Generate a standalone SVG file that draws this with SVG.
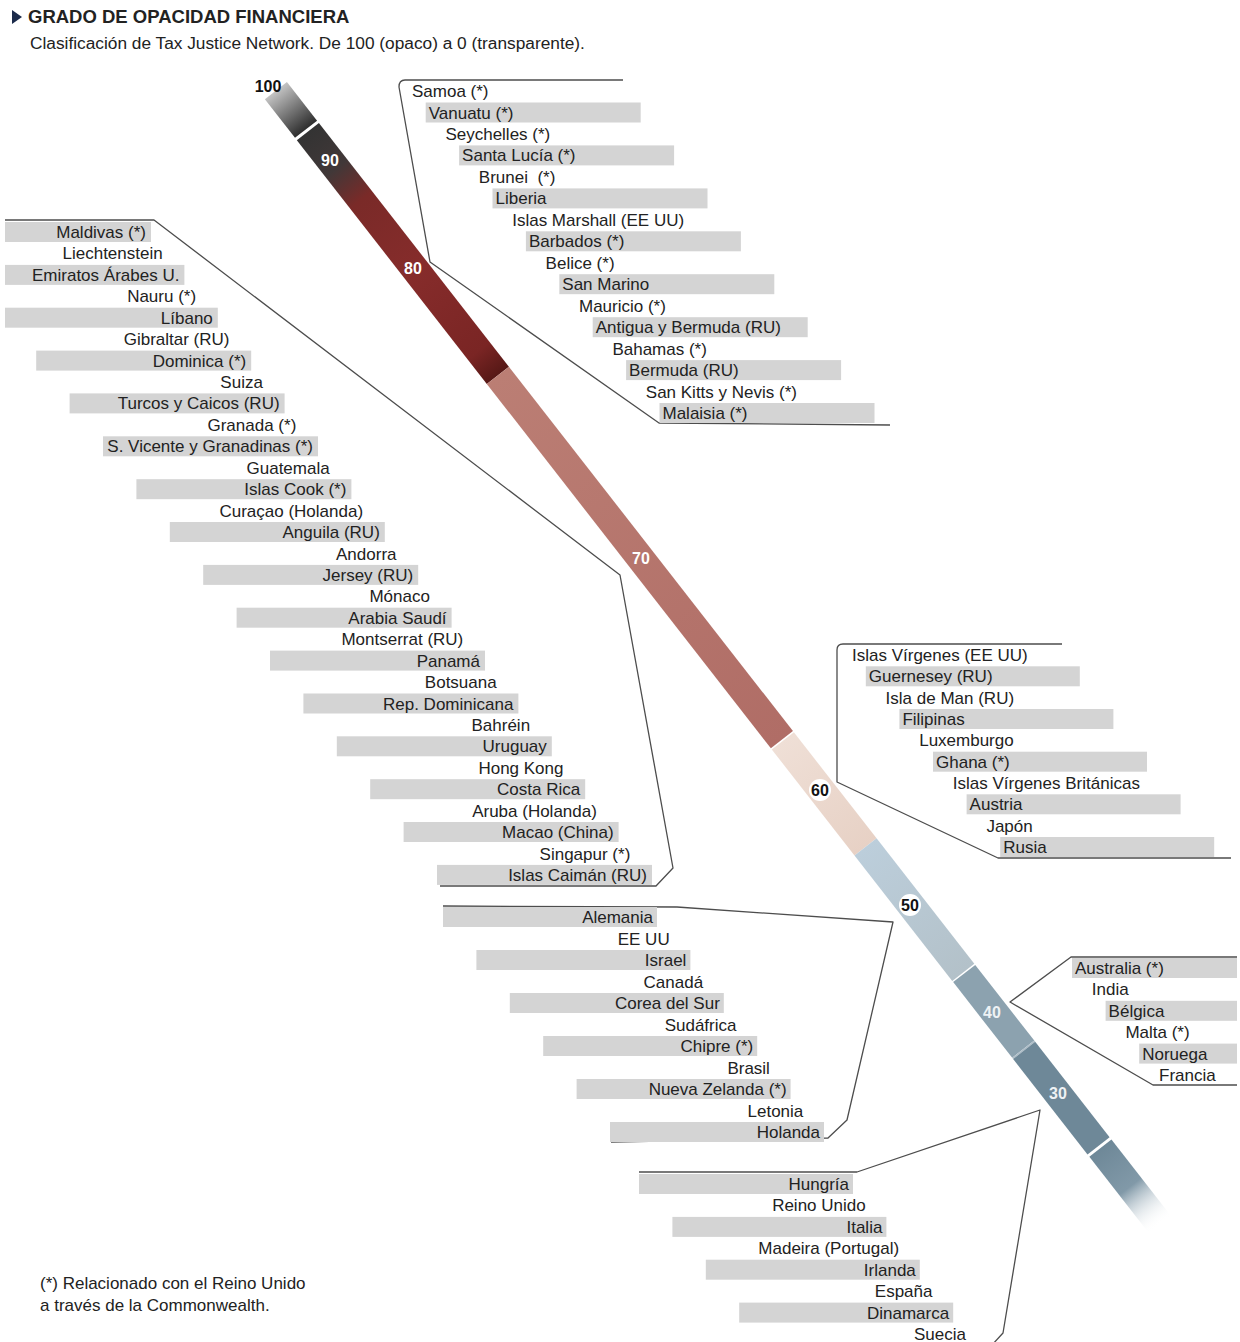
<svg xmlns="http://www.w3.org/2000/svg" width="1240" height="1342" viewBox="0 0 1240 1342">
<style>
.t{font-family:"Liberation Sans",Arial,sans-serif;font-size:17px;fill:#222}
.e{text-anchor:end}
.b{fill:#d4d4d4}
.br{fill:none;stroke:#4d4d4d;stroke-width:1.3;stroke-linejoin:round}
.n{font-family:"Liberation Sans",Arial,sans-serif;font-size:16px;font-weight:bold;text-anchor:middle}
.w{fill:#fff}
.k{fill:#111}
</style>
<defs>
<linearGradient id="gA" gradientUnits="userSpaceOnUse" x1="-88" y1="0" x2="-39" y2="0">
<stop offset="0" stop-color="#c4c4c4"/><stop offset="1" stop-color="#2e2e2e"/>
</linearGradient>
<linearGradient id="gB" gradientUnits="userSpaceOnUse" x1="-36" y1="0" x2="273" y2="0">
<stop offset="0" stop-color="#333"/><stop offset="0.15" stop-color="#413838"/><stop offset="0.28" stop-color="#7a2a28"/><stop offset="0.57" stop-color="#862c2b"/><stop offset="0.9" stop-color="#7a2524"/><stop offset="1" stop-color="#561816"/>
</linearGradient>
<linearGradient id="gC" gradientUnits="userSpaceOnUse" x1="273" y1="0" x2="735" y2="0">
<stop offset="0" stop-color="#bb7e74"/><stop offset="1" stop-color="#b06d66"/>
</linearGradient>
<linearGradient id="gD" gradientUnits="userSpaceOnUse" x1="736" y1="0" x2="871" y2="0">
<stop offset="0" stop-color="#efdfd6"/><stop offset="1" stop-color="#e7d1c5"/>
</linearGradient>
<linearGradient id="gE" gradientUnits="userSpaceOnUse" x1="871" y1="0" x2="1030" y2="0">
<stop offset="0" stop-color="#bccedb"/><stop offset="1" stop-color="#b3c1c9"/>
</linearGradient>
<linearGradient id="gH" gradientUnits="userSpaceOnUse" x1="1253" y1="0" x2="1350" y2="0">
<stop offset="0" stop-color="#6e8898"/><stop offset="0.5" stop-color="#8199a8"/><stop offset="1" stop-color="#ffffff" stop-opacity="0"/>
</linearGradient>
</defs>
<rect width="1240" height="1342" fill="#fff"/>

<g id="title">
<polygon points="12,10 22,17 12,24" fill="#1b2b4b"/>
<text x="28" y="23" style="font-family:'Liberation Sans',Arial,sans-serif;font-size:18.5px;font-weight:bold;fill:#222">GRADO DE OPACIDAD FINANCIERA</text>
<text class="t" x="30" y="49" style="font-size:17.3px">Clasificación de Tax Justice Network. De 100 (opaco) a 0 (transparente).</text>
</g>

<g id="scale-bar">
<g transform="translate(330,160) rotate(52.06)">
<rect x="-88" y="-14" width="49" height="28" fill="url(#gA)"/>
<rect x="-36" y="-14" width="309" height="28" fill="url(#gB)"/>
<rect x="273" y="-14" width="462" height="28" fill="url(#gC)"/>
<rect x="736.5" y="-14" width="134.5" height="28" fill="url(#gD)"/>
<rect x="871" y="-14" width="159" height="28" fill="url(#gE)"/>
<rect x="1031.5" y="-14" width="96" height="28" fill="#8ca2af"/>
<rect x="1127.5" y="-14" width="1.5" height="28" fill="#aebdc7"/>
<rect x="1129" y="-14" width="121" height="28" fill="#6e8898"/>
<rect x="1253" y="-14" width="97" height="28" fill="url(#gH)"/>
</g>
<text class="n k" x="268" y="91.5">100</text>
<text class="n w" x="330" y="165.5">90</text>
<text class="n w" x="413" y="273.5">80</text>
<text class="n w" x="641" y="563.5">70</text>
<circle cx="820" cy="790" r="11" fill="#fff"/>
<text class="n k" x="820" y="795.5">60</text>
<circle cx="910" cy="905" r="11" fill="#fff"/>
<text class="n k" x="910" y="910.5">50</text>
<text class="n" x="992" y="1017.5" fill="#eef2f4">40</text>
<text class="n" x="1058" y="1098.5" fill="#eef2f4">30</text>
</g>

<g id="connectors">
<path class="br" d="M623,80 L405,80 Q399,80 399,87 L430,262 L659,423 L890,425"/>
<path class="br" d="M5,220 L154,220 L620,575 L673,868 L656,886 L440,886"/>
<path class="br" d="M1062,644 L843,644 Q837,644 837,650 L837,782 L998,858 L1231,858"/>
<path class="br" d="M443,906 L677,907 L893,922 L847,1120 L828,1138 L611,1142"/>
<path class="br" d="M1237,957 L1071,957 L1010,1002 L1153,1085 L1237,1085"/>
<path class="br" d="M639,1172 L857,1172 L1040,1110 L1003,1333 L992,1345"/>
</g>

<g id="list-top-right">
<rect class="b" x="425.7" y="102.5" width="215" height="20"/>
<rect class="b" x="459.1" y="145.4" width="215" height="20"/>
<rect class="b" x="492.5" y="188.4" width="215" height="20"/>
<rect class="b" x="525.9" y="231.3" width="215" height="20"/>
<rect class="b" x="559.3" y="274.2" width="215" height="20"/>
<rect class="b" x="592.7" y="317.2" width="215" height="20"/>
<rect class="b" x="626.1" y="360.1" width="215" height="20"/>
<rect class="b" x="659.5" y="403" width="215" height="20"/>
<text class="t" x="412" y="97">Samoa (*)</text>
<text class="t" x="428.7" y="118.5">Vanuatu (*)</text>
<text class="t" x="445.4" y="139.9">Seychelles (*)</text>
<text class="t" x="462.1" y="161.4">Santa Lucía (*)</text>
<text class="t" x="478.8" y="182.9">Brunei&#160; (*)</text>
<text class="t" x="495.5" y="204.4">Liberia</text>
<text class="t" x="512.2" y="225.8">Islas Marshall (EE UU)</text>
<text class="t" x="528.9" y="247.3">Barbados (*)</text>
<text class="t" x="545.6" y="268.8">Belice (*)</text>
<text class="t" x="562.3" y="290.2">San Marino</text>
<text class="t" x="579" y="311.7">Mauricio (*)</text>
<text class="t" x="595.7" y="333.2">Antigua y Bermuda (RU)</text>
<text class="t" x="612.4" y="354.6">Bahamas (*)</text>
<text class="t" x="629.1" y="376.1">Bermuda (RU)</text>
<text class="t" x="645.8" y="397.6">San Kitts y Nevis (*)</text>
<text class="t" x="662.5" y="419">Malaisia (*)</text>
</g>

<g id="list-left">
<rect class="b" x="5" y="222" width="146" height="20"/>
<rect class="b" x="5" y="264.9" width="179.4" height="20"/>
<rect class="b" x="5" y="307.7" width="212.8" height="20"/>
<rect class="b" x="36.2" y="350.6" width="215" height="20"/>
<rect class="b" x="69.6" y="393.4" width="215" height="20"/>
<rect class="b" x="103" y="436.3" width="215" height="20"/>
<rect class="b" x="136.4" y="479.2" width="215" height="20"/>
<rect class="b" x="169.8" y="522" width="215" height="20"/>
<rect class="b" x="203.2" y="564.9" width="215" height="20"/>
<rect class="b" x="236.6" y="607.7" width="215" height="20"/>
<rect class="b" x="270" y="650.6" width="215" height="20"/>
<rect class="b" x="303.4" y="693.5" width="215" height="20"/>
<rect class="b" x="336.8" y="736.3" width="215" height="20"/>
<rect class="b" x="370.2" y="779.2" width="215" height="20"/>
<rect class="b" x="403.6" y="822" width="215" height="20"/>
<rect class="b" x="437" y="864.9" width="215" height="20"/>
<text class="t e" x="146" y="238">Maldivas (*)</text>
<text class="t e" x="162.7" y="259.4">Liechtenstein</text>
<text class="t e" x="179.4" y="280.9">Emiratos Árabes U.</text>
<text class="t e" x="196.1" y="302.3">Nauru (*)</text>
<text class="t e" x="212.8" y="323.7">Líbano</text>
<text class="t e" x="229.5" y="345.2">Gibraltar (RU)</text>
<text class="t e" x="246.2" y="366.6">Dominica (*)</text>
<text class="t e" x="262.9" y="388">Suiza</text>
<text class="t e" x="279.6" y="409.4">Turcos y Caicos (RU)</text>
<text class="t e" x="296.3" y="430.9">Granada (*)</text>
<text class="t e" x="313" y="452.3">S. Vicente y Granadinas (*)</text>
<text class="t e" x="329.7" y="473.7">Guatemala</text>
<text class="t e" x="346.4" y="495.2">Islas Cook (*)</text>
<text class="t e" x="363.1" y="516.6">Curaçao (Holanda)</text>
<text class="t e" x="379.8" y="538">Anguila (RU)</text>
<text class="t e" x="396.5" y="559.5">Andorra</text>
<text class="t e" x="413.2" y="580.9">Jersey (RU)</text>
<text class="t e" x="429.9" y="602.3">Mónaco</text>
<text class="t e" x="446.6" y="623.7">Arabia Saudí</text>
<text class="t e" x="463.3" y="645.2">Montserrat (RU)</text>
<text class="t e" x="480" y="666.6">Panamá</text>
<text class="t e" x="496.7" y="688">Botsuana</text>
<text class="t e" x="513.4" y="709.5">Rep. Dominicana</text>
<text class="t e" x="530.1" y="730.9">Bahréin</text>
<text class="t e" x="546.8" y="752.3">Uruguay</text>
<text class="t e" x="563.5" y="773.8">Hong Kong</text>
<text class="t e" x="580.2" y="795.2">Costa Rica</text>
<text class="t e" x="596.9" y="816.6">Aruba (Holanda)</text>
<text class="t e" x="613.6" y="838">Macao (China)</text>
<text class="t e" x="630.3" y="859.5">Singapur (*)</text>
<text class="t e" x="647" y="880.9">Islas Caimán (RU)</text>
</g>

<g id="list-middle-right">
<rect class="b" x="865.8" y="666.3" width="214" height="20"/>
<rect class="b" x="899.4" y="709" width="214" height="20"/>
<rect class="b" x="933" y="751.7" width="214" height="20"/>
<rect class="b" x="966.6" y="794.3" width="214" height="20"/>
<rect class="b" x="1000.2" y="837" width="214" height="20"/>
<text class="t" x="852" y="661">Islas Vírgenes (EE UU)</text>
<text class="t" x="868.8" y="682.3">Guernesey (RU)</text>
<text class="t" x="885.6" y="703.7">Isla de Man (RU)</text>
<text class="t" x="902.4" y="725">Filipinas</text>
<text class="t" x="919.2" y="746.3">Luxemburgo</text>
<text class="t" x="936" y="767.7">Ghana (*)</text>
<text class="t" x="952.8" y="789">Islas Vírgenes Británicas</text>
<text class="t" x="969.6" y="810.3">Austria</text>
<text class="t" x="986.4" y="831.6">Japón</text>
<text class="t" x="1003.2" y="853">Rusia</text>
</g>

<g id="list-lower-middle">
<rect class="b" x="443" y="907" width="214" height="20"/>
<rect class="b" x="476.4" y="950" width="214" height="20"/>
<rect class="b" x="509.8" y="993" width="214" height="20"/>
<rect class="b" x="543.2" y="1036" width="214" height="20"/>
<rect class="b" x="576.6" y="1079" width="214" height="20"/>
<rect class="b" x="610" y="1122" width="214" height="20"/>
<text class="t e" x="653" y="923">Alemania</text>
<text class="t e" x="669.7" y="944.5">EE UU</text>
<text class="t e" x="686.4" y="966">Israel</text>
<text class="t e" x="703.1" y="987.5">Canadá</text>
<text class="t e" x="719.8" y="1009">Corea del Sur</text>
<text class="t e" x="736.5" y="1030.5">Sudáfrica</text>
<text class="t e" x="753.2" y="1052">Chipre (*)</text>
<text class="t e" x="769.9" y="1073.5">Brasil</text>
<text class="t e" x="786.6" y="1095">Nueva Zelanda (*)</text>
<text class="t e" x="803.3" y="1116.5">Letonia</text>
<text class="t e" x="820" y="1138">Holanda</text>
</g>

<g id="list-right-lower">
<rect class="b" x="1072" y="958" width="165" height="20"/>
<rect class="b" x="1105.6" y="1000.8" width="131.4" height="20"/>
<rect class="b" x="1139.2" y="1043.6" width="97.8" height="20"/>
<text class="t" x="1075" y="974">Australia (*)</text>
<text class="t" x="1091.8" y="995.4">India</text>
<text class="t" x="1108.6" y="1016.8">Bélgica</text>
<text class="t" x="1125.4" y="1038.2">Malta (*)</text>
<text class="t" x="1142.2" y="1059.6">Noruega</text>
<text class="t" x="1159" y="1081">Francia</text>
</g>

<g id="list-bottom">
<rect class="b" x="639" y="1174" width="214" height="20"/>
<rect class="b" x="672.4" y="1216.9" width="214" height="20"/>
<rect class="b" x="705.8" y="1259.7" width="214" height="20"/>
<rect class="b" x="739.2" y="1302.6" width="214" height="20"/>
<text class="t e" x="849" y="1190">Hungría</text>
<text class="t e" x="865.7" y="1211.4">Reino Unido</text>
<text class="t e" x="882.4" y="1232.9">Italia</text>
<text class="t e" x="899.1" y="1254.3">Madeira (Portugal)</text>
<text class="t e" x="915.8" y="1275.7">Irlanda</text>
<text class="t e" x="932.5" y="1297.2">España</text>
<text class="t e" x="949.2" y="1318.6">Dinamarca</text>
<text class="t e" x="965.9" y="1340">Suecia</text>
</g>

<g id="footnote">
<text class="t" x="40" y="1289">(*) Relacionado con el Reino Unido</text>
<text class="t" x="40" y="1311">a través de la Commonwealth.</text>
</g>
</svg>
